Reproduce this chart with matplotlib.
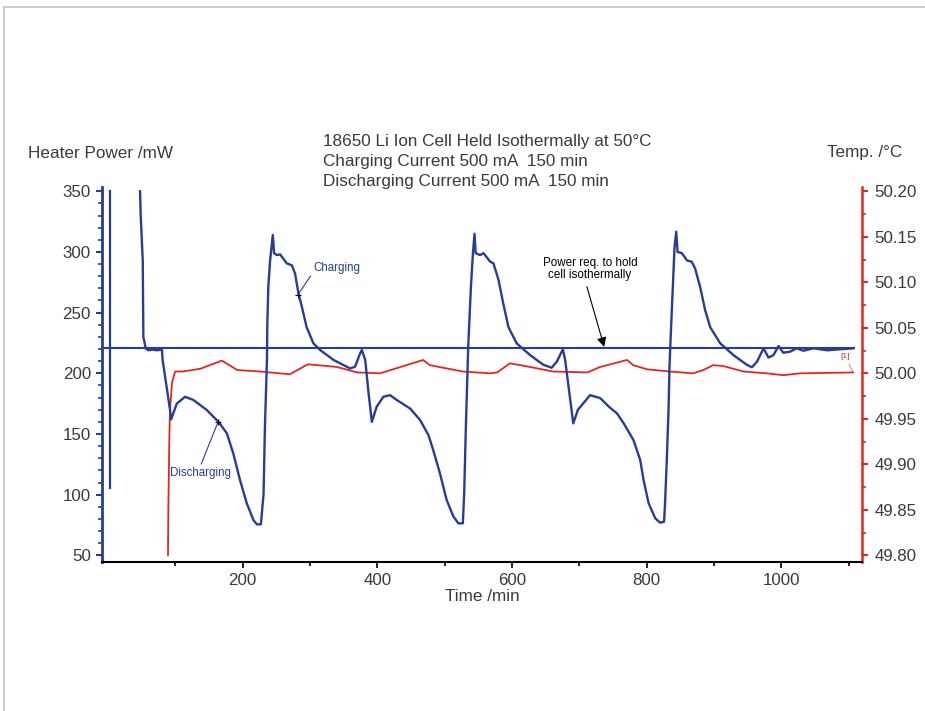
import matplotlib
matplotlib.use('Agg')
import matplotlib.pyplot as plt
from matplotlib.lines import Line2D
from matplotlib.ticker import MultipleLocator, FixedLocator, FormatStrFormatter

plt.rcParams['font.family'] = ['Liberation Sans', 'DejaVu Sans']

# heater power trace (min, mW)
time_power = [47.5, 48.5, 51.5, 52.4, 55.9, 60, 66, 72, 80,
              81, 92, 93.6, 102, 114.4, 126.8, 146.6, 164, 176.4, 186, 196, 206, 216, 221, 227,
              228, 231, 233, 236, 236.5, 238, 240.7, 244.7, 246.6, 250.6, 255.5, 265.5, 273,
              277.8, 282.8, 287.8, 295, 305, 315, 335, 359.6, 367, 374.4, 377,
              382, 387, 391.8, 399, 409, 419, 429, 448.7, 463.6, 476, 483, 493, 503, 513, 520.5, 527,
              529, 531.5, 534.4, 535, 539, 542, 544.4, 546, 552.7, 557.7, 567.6, 572.5, 580, 587,
              594.8, 607, 627, 646.7, 659, 666.6, 675.6,
              679, 684, 691, 698, 706, 716, 731, 745, 756, 766, 780.5, 790.5, 795.5, 803, 812.8, 820, 826,
              827.6, 830, 832.6, 834, 836, 839, 841.5, 844, 846, 852.4, 860, 867, 872, 879.6, 887,
              894.5, 909.4, 929, 949, 956.5, 964, 973.7, 981, 988.5, 996, 1003, 1013, 1023, 1033,
              1048, 1068, 1107]
power = [350, 329, 293, 230, 220.6, 219, 219.5, 219, 219.5,
         211, 170, 162, 175, 180.7, 178, 169.8, 160, 150.6, 134, 112, 93, 79, 75.6, 75.6,
         82, 101, 156, 211, 238, 271, 293, 314, 299, 297.4, 298, 290.6, 289,
         282, 266, 255, 238, 224.7, 219.2, 211, 204, 205.5, 216.5, 219.2,
         211, 183.5, 160, 172.5, 180.7, 182, 178, 171, 161.5, 149, 136.8, 117.6, 95.6, 82, 76.4, 76.4,
         101, 156, 211, 222, 271, 299, 315, 299, 297.4, 299, 292, 290.6, 277, 257.7,
         238, 224.7, 215, 207, 204.6, 209.6, 219.8,
         211, 189, 158.8, 170, 175.3, 182, 179.6, 172, 167, 158.8, 145, 128.6, 112, 93, 80.6, 77, 77.8,
         95.6, 128.6, 170, 205.5, 233, 271, 304, 316.6, 300, 299, 293, 292, 286.5, 271, 252,
         238, 224.7, 215, 207, 205, 209.6, 220.6, 213, 215, 222.5, 217, 217.8, 220.6, 218.6,
         220.6, 219, 220.6]

# start-up spike at the very beginning
time_spike = [3, 3]
power_spike = [350, 105.5]

# power needed to hold the cell isothermally
baseline_power = 220.5
baseline_time = [-9, 1108]

# cell temperature (min, degC)
time_temp = [89, 89.5, 91, 92, 95, 99.6, 110, 137, 169, 192, 226, 270, 297, 340, 370, 404,
             468, 478, 527, 568, 578, 597, 627, 661, 712, 731, 771, 780, 801, 835, 869, 884,
             899, 914, 944, 979, 1003, 1028, 1107]
temp = [49.80, 49.85, 49.93, 49.96, 49.99, 50.002, 50.002, 50.005, 50.014, 50.0036, 50.002,
        49.999, 50.010, 50.007, 50.001, 50.000, 50.0147, 50.009, 50.002, 50.000, 50.001,
        50.011, 50.007, 50.002, 50.001, 50.007, 50.0147, 50.009, 50.0044, 50.002, 50.000,
        50.0036, 50.009, 50.008, 50.002, 50.000, 49.998, 50.000, 50.001]

title_lines = ['18650 Li Ion Cell Held Isothermally at 50\u00b0C',
               'Charging Current 500 mA  150 min',
               'Discharging Current 500 mA  150 min']

blue = '#263d98'
red = '#e5261f'
grey_text = '#3a3a3a'

fig = plt.figure(figsize=(9.25, 7.11), dpi=100)
ax = fig.add_axes([0.1103, 0.2096, 0.8216, 0.5274])
ax2 = ax.twinx()
ax.set_zorder(ax2.get_zorder() + 1)
ax.patch.set_visible(False)

# Curves
ax.plot(time_spike, power_spike, color=blue, lw=1.6)
ax.plot(time_power, power, color=blue, lw=1.7, solid_joinstyle='round')
ax.plot(baseline_time, [baseline_power, baseline_power], color=blue, lw=1.5)
ax2.plot(time_temp, temp, color=red, lw=1.3)

# Limits
ax.set_xlim(-9, 1120)
ax.set_ylim(44.6, 353.5)
ax2.set_ylim(49.7928, 50.2047)

# Spines
for s in ['top']:
    ax.spines[s].set_visible(False)
    ax2.spines[s].set_visible(False)
ax.spines['right'].set_visible(False)
ax2.spines['left'].set_visible(False)
ax2.spines['bottom'].set_visible(False)
ax.spines['left'].set_color(blue)
ax.spines['left'].set_linewidth(2)
ax.spines['bottom'].set_color('black')
ax.spines['bottom'].set_linewidth(1.5)
ax2.spines['right'].set_color(red)
ax2.spines['right'].set_linewidth(1.8)

# Ticks
ax.xaxis.set_major_locator(FixedLocator([200, 400, 600, 800, 1000]))
ax.xaxis.set_minor_locator(FixedLocator([100, 300, 500, 700, 900, 1100]))
ax.yaxis.set_major_locator(MultipleLocator(50))
ax.yaxis.set_minor_locator(MultipleLocator(10))
ax2.yaxis.set_major_locator(MultipleLocator(0.05))
ax2.yaxis.set_minor_locator(MultipleLocator(0.025))
ax2.yaxis.set_major_formatter(FormatStrFormatter('%.2f'))

ax.tick_params(axis='y', which='both', color=blue, labelcolor=grey_text, labelsize=12.2)
ax.tick_params(axis='y', which='major', length=4, width=1.5, pad=4)
ax.tick_params(axis='y', which='minor', length=3, width=1.2)
ax.tick_params(axis='x', which='both', color='black', labelcolor=grey_text, labelsize=12.2)
ax.tick_params(axis='x', which='major', length=4, width=1.2, pad=4)
ax.tick_params(axis='x', which='minor', length=3, width=1.2)
ax2.tick_params(axis='y', which='both', color=red, labelcolor=grey_text, labelsize=12.2)
ax2.tick_params(axis='y', which='major', length=4, width=1.5, pad=5)
ax2.tick_params(axis='y', which='minor', length=3, width=1.2)

ax.set_xlabel('Time /min', fontsize=12.3, color=grey_text, labelpad=1)

# Annotations
ax.annotate('Charging', xy=(281.7, 264.5), xytext=(340, 286.7), fontsize=8.3, color=blue,
            ha='center', va='center',
            arrowprops=dict(arrowstyle='-', color=blue, lw=0.8, shrinkA=0, shrinkB=0,
                            relpos=(0.0, 0.2)))
ax.plot([281.7], [264.5], marker='+', color='black', ms=5, mew=0.8)
ax.annotate('Discharging', xy=(163.4, 160), xytext=(136.7, 118), fontsize=8.3, color=blue,
            ha='center', va='center',
            arrowprops=dict(arrowstyle='-', color=blue, lw=0.8, shrinkA=0, shrinkB=0,
                            relpos=(0.5, 1.0)))
ax.plot([163.4], [160], marker='+', color='black', ms=5, mew=0.8)
ax.annotate('Power req. to hold\ncell isothermally', xy=(737, 221.7), xytext=(716, 286),
            fontsize=8.4, color='black', ha='center', va='center', linespacing=1.05,
            arrowprops=dict(arrowstyle='-|>', color='black', lw=0.8, shrinkA=2, shrinkB=0,
                            mutation_scale=14, relpos=(0.45, 0.0)))
ax2.annotate('[1]', xy=(1107, 50.001), xytext=(1095, 50.0185), fontsize=6, color=red,
             ha='center', va='center',
             arrowprops=dict(arrowstyle='-', color='#888888', lw=0.6, shrinkA=1, shrinkB=0))

# Header texts
for i, line in enumerate(title_lines):
    fig.text(323 / 925, 1 - (141.7 + 19.7 * i) / 711, line, fontsize=12.3,
             color=grey_text, ha='left', va='center')
fig.text(28 / 925, 1 - 153 / 711, 'Heater Power /mW', fontsize=12.3, color=grey_text,
         ha='left', va='center')
fig.text(902 / 925, 1 - 153 / 711, 'Temp. /\u00b0C', fontsize=12.3, color=grey_text,
         ha='right', va='center')

# light frame at top and left edge of the picture
fig.add_artist(Line2D([4 / 925, 1.0], [1 - 7 / 711, 1 - 7 / 711], color='#c4c4c4', lw=1.2))
fig.add_artist(Line2D([4 / 925, 4 / 925], [0.0, 1 - 7 / 711], color='#c4c4c4', lw=1.2))

fig.savefig('out.png', dpi=100)
